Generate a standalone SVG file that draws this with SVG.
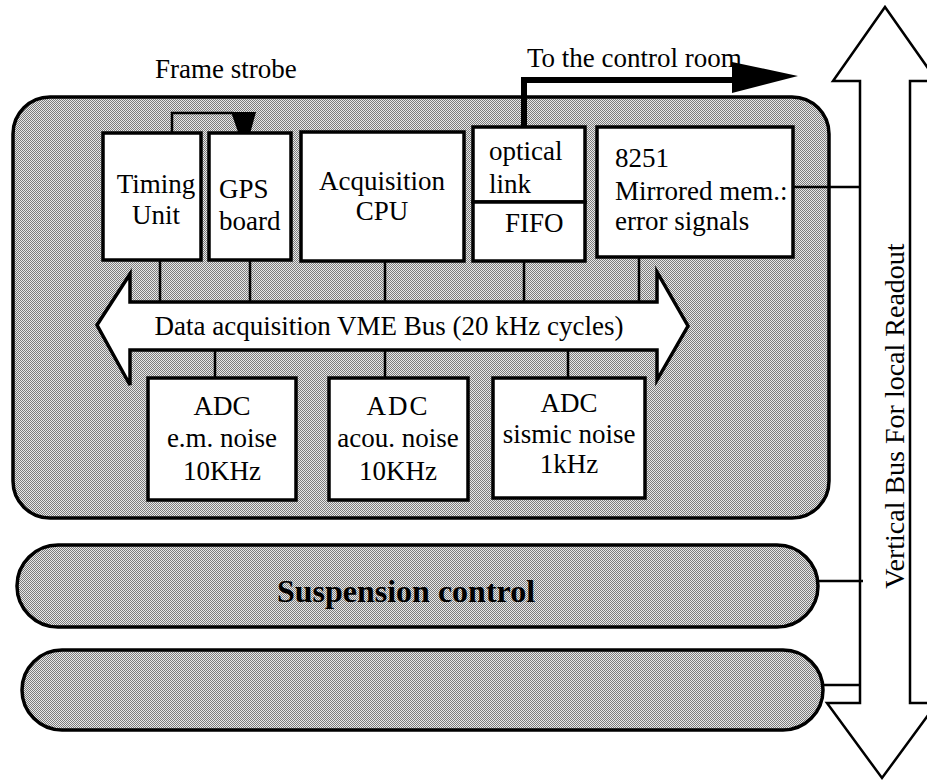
<svg xmlns="http://www.w3.org/2000/svg" width="927" height="782" viewBox="0 0 927 782">
  <style>
    .txt { font-family: "Liberation Serif", "Times New Roman", serif; font-size: 27px; fill: #000; }
    .mid { text-anchor: middle; }
    .title { font-size: 32px; font-weight: bold; }
    .vlabel { font-size: 28px; }
    .panel { fill: url(#dither); stroke: #000; stroke-width: 3.5; }
    .box { fill: #fff; stroke: #000; stroke-width: 3.5; }
    .bus { fill: #fff; stroke: #000; stroke-width: 3.5; stroke-linejoin: miter; }
    .stub { stroke: #000; stroke-width: 2.5; fill: none; }
    .link { stroke: #000; stroke-width: 2.5; fill: none; }
  </style>
  <defs>
    <!-- 1px checker dither used for the grey crate fills -->
    <pattern id="dither" width="2" height="2" patternUnits="userSpaceOnUse">
      <rect width="2" height="2" fill="#e8e8e8"/>
      <rect width="1" height="1" fill="#7c7c7c"/>
      <rect x="1" y="1" width="1" height="1" fill="#7c7c7c"/>
    </pattern>
  </defs>

  <rect width="927" height="782" fill="#fff"/>

  <!-- Vertical readout bus (double-headed arrow) -->
  <g id="vertical-bus">
    <polygon class="bus" style="stroke-width:2.5" points="885,7 937,81 910,81 910,703 937,703 882,778 827,703 860,703 860,81 833,81"/>
    <text class="txt mid vlabel" transform="translate(904,416) rotate(-90)">Vertical Bus For local Readout</text>
  </g>

  <!-- Data acquisition crate -->
  <g id="daq-crate">
    <rect class="panel" x="13" y="97" width="816" height="421" rx="37" ry="37"/>
  </g>

  <!-- Suspension control crate -->
  <g id="suspension-crate">
    <rect class="panel" x="17" y="545" width="801" height="82" rx="41" ry="41"/>
    <text class="txt mid title" x="406" y="602">Suspension control</text>
  </g>

  <!-- Unlabelled lower crate -->
  <g id="lower-crate">
    <rect class="panel" x="22" y="650" width="801" height="80" rx="40" ry="40"/>
  </g>

  <!-- Connectors: bus stubs, strobe, optical output, readout taps -->
  <g id="connectors">
    <!-- stubs from upper boards down to the VME bus -->
    <line class="stub" x1="160" y1="260" x2="160" y2="302"/>
    <line class="stub" x1="250" y1="260" x2="250" y2="302"/>
    <line class="stub" x1="385" y1="261" x2="385" y2="302"/>
    <line class="stub" x1="524" y1="261" x2="524" y2="302"/>
    <line class="stub" x1="639" y1="257" x2="639" y2="302"/>
    <!-- stubs from the VME bus down to the ADCs -->
    <line class="stub" x1="215" y1="350" x2="215" y2="378"/>
    <line class="stub" x1="385" y1="350" x2="385" y2="378"/>
    <line class="stub" x1="568" y1="350" x2="568" y2="378"/>

    <!-- frame strobe: timing unit to GPS board -->
    <polyline class="link" points="172,133 172,113 233,113"/>
    <polygon points="231,112 256,112 245,152" fill="#000"/>
    <line x1="244" y1="145" x2="242" y2="168" stroke="#000" stroke-width="2"/>

    <!-- optical link out to the control room -->
    <polyline points="524,127 524,80 735,80" fill="none" stroke="#000" stroke-width="6"/>
    <polygon points="732,62 798,76 732,93" fill="#000"/>

    <!-- taps onto the vertical readout bus -->
    <line class="link" x1="793" y1="187" x2="860" y2="187"/>
    <line class="link" x1="818" y1="581" x2="863" y2="581"/>
    <line class="link" x1="823" y1="685" x2="860" y2="685"/>
  </g>

  <!-- VME bus (double-headed arrow) -->
  <g id="vme-bus">
    <polygon class="bus" points="97,325 130,274 130,302 657,302 657,272 688,326 657,380 657,350 130,350 130,385"/>
    <text class="txt mid" x="389" y="335">Data acquisition VME Bus (20 kHz cycles)</text>
  </g>

  <g id="frame-strobe-label">
    <text class="txt" x="155" y="78">Frame strobe</text>
  </g>
  <g id="control-room-label">
    <text class="txt" x="527" y="67">To the control room</text>
  </g>

  <g id="timing-unit">
    <rect class="box" x="103" y="133" width="98" height="127"/>
    <text class="txt mid" x="156" y="193">Timing</text>
    <text class="txt mid" x="156" y="224">Unit</text>
  </g>

  <g id="gps-board">
    <rect class="box" x="209" y="133" width="82" height="127"/>
    <text class="txt" x="219" y="198">GPS</text>
    <text class="txt" x="219" y="230">board</text>
  </g>

  <g id="acquisition-cpu">
    <rect class="box" x="301" y="132" width="163" height="129"/>
    <text class="txt mid" x="382" y="190">Acquisition</text>
    <text class="txt mid" x="382" y="220">CPU</text>
  </g>

  <g id="optical-link">
    <rect class="box" x="473" y="127" width="112" height="75"/>
    <text class="txt" x="489" y="160">optical</text>
    <text class="txt" x="489" y="193">link</text>
  </g>

  <g id="fifo">
    <rect class="box" x="473" y="202" width="112" height="59"/>
    <text class="txt" x="505" y="232">FIFO</text>
  </g>

  <g id="mirrored-memory">
    <rect class="box" x="597" y="127" width="196" height="130"/>
    <text class="txt" x="615" y="167">8251</text>
    <text class="txt" x="615" y="200">Mirrored mem.:</text>
    <text class="txt" x="615" y="230">error signals</text>
  </g>

  <g id="adc-em">
    <rect class="box" x="148" y="378" width="148" height="122"/>
    <text class="txt mid" x="222" y="415">ADC</text>
    <text class="txt mid" x="222" y="447">e.m. noise</text>
    <text class="txt mid" x="222" y="480">10KHz</text>
  </g>

  <g id="adc-acoustic">
    <rect class="box" x="329" y="378" width="139" height="122"/>
    <text class="txt mid" x="398" y="415" letter-spacing="2">ADC</text>
    <text class="txt mid" x="398" y="447">acou. noise</text>
    <text class="txt mid" x="398" y="480">10KHz</text>
  </g>

  <g id="adc-seismic">
    <rect class="box" x="493" y="378" width="152" height="120"/>
    <text class="txt mid" x="569" y="412">ADC</text>
    <text class="txt mid" x="569" y="443">sismic noise</text>
    <text class="txt mid" x="569" y="473">1kHz</text>
  </g>
</svg>
